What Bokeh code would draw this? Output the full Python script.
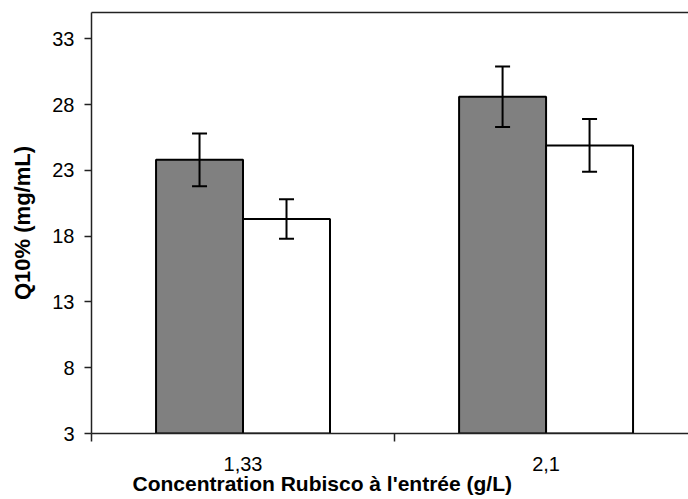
from bokeh.plotting import figure
from bokeh.models import (Range1d, FixedTicker, LinearAxis, Whisker, TeeHead,
                          ColumnDataSource, Title)
from bokeh.embed import file_html
from bokeh.resources import INLINE

# Rubisco feed concentration (g/L) and Q10% values (mg/mL)
categories = ["1,33", "2,1"]
q10_grey = [23.8, 28.6]
err_grey = [2.0, 2.3]
q10_white = [19.3, 24.9]
err_white = [1.5, 2.0]
y_ticks = [3, 8, 13, 18, 23, 28, 33]

FONT = "Liberation Sans"
bar_w = 0.287
centers = [i + 0.5 for i in range(len(categories))]

p = figure(width=688, height=499, output_backend="svg", toolbar_location=None,
           x_range=Range1d(0, 1.97), y_range=Range1d(3, 35),
           min_border_left=91, min_border_right=0, min_border_top=12,
           min_border_bottom=66)
p.outline_line_color = None
p.xgrid.visible = False
p.ygrid.visible = False
p.background_fill_color = "white"
p.border_fill_color = "white"

grey_src = ColumnDataSource(dict(
    x=[c - bar_w / 2 for c in centers], top=q10_grey,
    upper=[v + e for v, e in zip(q10_grey, err_grey)],
    lower=[v - e for v, e in zip(q10_grey, err_grey)]))
white_src = ColumnDataSource(dict(
    x=[c + bar_w / 2 for c in centers], top=q10_white,
    upper=[v + e for v, e in zip(q10_white, err_white)],
    lower=[v - e for v, e in zip(q10_white, err_white)]))

p.vbar(x="x", top="top", bottom=3, width=bar_w, source=grey_src,
       fill_color="#808080", line_color="black", line_width=2)
p.vbar(x="x", top="top", bottom=3, width=bar_w, source=white_src,
       fill_color="white", line_color="black", line_width=2)

for src in (grey_src, white_src):
    p.add_layout(Whisker(source=src, base="x", upper="upper", lower="lower",
                         level="overlay", line_color="black", line_width=2,
                         upper_head=TeeHead(size=15, line_color="black", line_width=2),
                         lower_head=TeeHead(size=15, line_color="black", line_width=2)))

# x axis: labels at group centres, tick marks between groups
xa = p.xaxis[0]
xa.ticker = FixedTicker(ticks=centers, minor_ticks=[0, 1, 2])
xa.major_label_overrides = {c: lab for c, lab in zip(centers, categories)}
xa.major_tick_out = 0
xa.major_tick_in = 0
xa.minor_tick_out = 8
xa.minor_tick_in = 0
xa.minor_tick_line_color = "#222222"
xa.minor_tick_line_width = 1.5
xa.axis_line_color = "#222222"
xa.axis_line_width = 1.5
xa.major_label_text_font = FONT
xa.major_label_text_font_size = "20px"
xa.major_label_text_color = "black"
xa.major_label_standoff = 15

ya = p.yaxis[0]
ya.ticker = FixedTicker(ticks=y_ticks)
ya.minor_tick_line_color = None
ya.major_tick_out = 7
ya.major_tick_in = 0
ya.major_tick_line_color = "#222222"
ya.major_tick_line_width = 1.5
ya.axis_line_color = "#222222"
ya.axis_line_width = 1.5
ya.major_label_text_font = FONT
ya.major_label_text_font_size = "20px"
ya.major_label_text_color = "black"
ya.major_label_standoff = 10
ya.axis_label = "Q10% (mg/mL)"
ya.axis_label_text_font = FONT
ya.axis_label_text_font_size = "22px"
ya.axis_label_text_font_style = "bold"
ya.axis_label_text_color = "black"
ya.axis_label_standoff = 14

# top frame line
top = LinearAxis(ticker=FixedTicker(ticks=[]), axis_line_color="#222222",
                 axis_line_width=1.5, major_label_text_font_size="0px",
                 major_tick_line_color=None, minor_tick_line_color=None)
p.add_layout(top, "above")

p.add_layout(Title(text="Concentration Rubisco à l'entrée (g/L)", align="left",
                   vertical_align="top", offset=41, text_font=FONT,
                   text_font_size="21px", text_font_style="bold",
                   text_color="black", standoff=-4),
             "below")

open("out.html", "w").write(file_html(p, INLINE))
